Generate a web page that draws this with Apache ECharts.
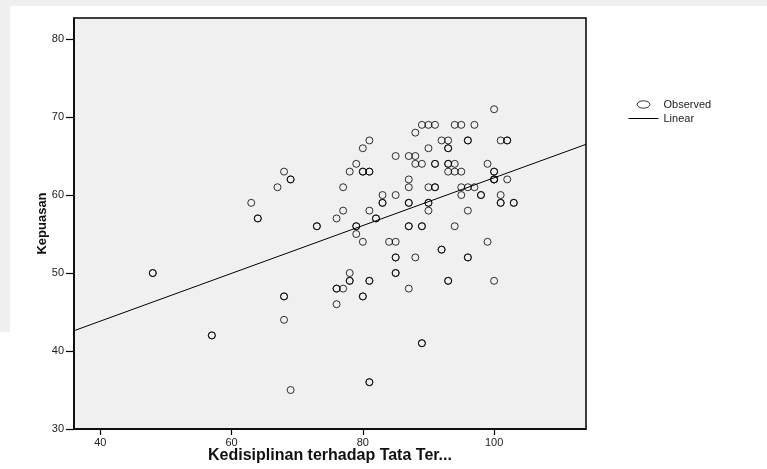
<!DOCTYPE html>
<html>
<head>
<meta charset="utf-8">
<script src="https://cdn.jsdelivr.net/npm/echarts@6/dist/echarts.min.js"></script>
<style>html,body{margin:0;padding:0;background:#fff}#c{width:767px;height:469px}</style>
</head>
<body>
<div id="c"></div>
<script>
// Observed values (repeated entries = overlapping cases)
const kedisiplinan = [48,48,57,57,63,64,64,67,68,68,68,68,69,69,69,73,73,76,76,76,76,77,77,77,78,78,78,78,79,79,79,79,80,80,80,80,80,80,81,81,81,81,81,81,81,81,82,82,83,83,83,84,85,85,85,85,85,85,85,87,87,87,87,87,87,87,87,88,88,88,88,89,89,89,89,89,89,90,90,90,90,90,90,91,91,91,91,91,92,92,92,93,93,93,93,93,93,93,93,94,94,94,94,95,95,95,95,96,96,96,96,96,96,97,97,98,98,99,99,100,100,100,100,100,100,100,101,101,101,101,102,102,102,103,103,103];
const kepuasan     = [50,50,42,42,59,57,57,61,63,47,47,44,62,62,35,56,56,57,48,48,46,61,58,48,63,50,49,49,64,56,56,55,66,63,63,54,47,47,67,63,63,58,49,49,36,36,57,57,60,59,59,54,60,54,52,52,50,50,65,62,61,59,59,56,56,48,65,65,64,52,68,64,56,56,41,41,69,69,61,59,59,58,66,64,64,61,61,69,53,53,67,67,66,66,64,63,49,49,64,64,63,56,69,63,61,60,69,67,67,58,52,52,61,61,69,60,60,54,64,63,63,62,62,62,49,71,60,59,59,67,67,62,67,59,59];
const xTicks = [40, 60, 80, 100];
const yTicks = [30, 40, 50, 60, 70, 80];
const fitX = [36, 114];
const fitY = [42.6, 66.5];

const observed = kedisiplinan.map((x, i) => [x, kepuasan[i]]);
const linear = fitX.map((x, i) => [x, fitY[i]]);

const font = 'Arial, "Liberation Sans", sans-serif';
const chart = echarts.init(document.getElementById('c'), null, {renderer: 'canvas'});
chart.setOption({
  animation: false,
  backgroundColor: '#ffffff',
  graphic: [
    {type: 'rect', z: -10, shape: {x: 0, y: 0, width: 767, height: 6}, style: {fill: '#efefef'}},
    {type: 'rect', z: -10, shape: {x: 0, y: 0, width: 10, height: 332}, style: {fill: '#efefef'}}
  ],
  grid: {
    left: 74, top: 18, right: 181, bottom: 40,
    outerBoundsMode: 'none', containLabel: false,
    show: true, backgroundColor: '#f0f0f0', borderColor: '#000', borderWidth: 1.5
  },
  legend: {
    left: 623, top: 94, orient: 'vertical',
    itemWidth: 30, itemHeight: 10, itemGap: 3,
    textStyle: {fontFamily: font, fontSize: 11, color: '#222'},
    data: [
      {name: 'Observed', icon: 'path://M0,0M30,10M8.6,5a6.4,3.7 0 1,0 12.8,0a6.4,3.7 0 1,0 -12.8,0z',
       itemStyle: {color: 'transparent', borderColor: '#000', borderWidth: 1}},
      {name: 'Linear', icon: 'path://M0,0M30,10M0,4.5h30v1h-30z',
       itemStyle: {color: '#000', borderWidth: 0}}
    ]
  },
  xAxis: {
    type: 'value', min: 36, max: 114,
    name: 'Kedisiplinan terhadap Tata Ter...', nameLocation: 'middle', nameGap: 19,
    nameMoveOverlap: false,
    nameTextStyle: {fontFamily: font, fontSize: 16, fontWeight: 'bold', color: '#111'},
    axisLine: {show: true, onZero: false, lineStyle: {color: '#000', width: 1.5}},
    axisTick: {show: true, length: 6, customValues: xTicks, lineStyle: {color: '#000', width: 1.2}},
    axisLabel: {customValues: xTicks, margin: 8, fontFamily: font, fontSize: 11, color: '#222'},
    splitLine: {show: false}
  },
  yAxis: {
    type: 'value', min: 30, max: 82.7,
    name: 'Kepuasan', nameLocation: 'middle', nameGap: 25,
    nameMoveOverlap: false,
    nameTextStyle: {fontFamily: font, fontSize: 13, fontWeight: 'bold', color: '#111'},
    axisLine: {show: true, onZero: false, lineStyle: {color: '#000', width: 1.5}},
    axisTick: {show: true, length: 8, customValues: yTicks, lineStyle: {color: '#000', width: 1.2}},
    axisLabel: {customValues: yTicks, margin: 10, fontFamily: font, fontSize: 11, color: '#222'},
    splitLine: {show: false}
  },
  series: [
    {
      name: 'Observed', type: 'scatter', data: observed,
      symbol: 'circle', symbolSize: 7,
      itemStyle: {color: 'transparent', borderColor: '#000', borderWidth: 1},
      emphasis: {disabled: true}
    },
    {
      name: 'Linear', type: 'line', data: linear,
      showSymbol: false, symbol: 'none',
      lineStyle: {color: '#000', width: 1},
      itemStyle: {color: '#000'},
      emphasis: {disabled: true}
    }
  ]
});
</script>
</body>
</html>
